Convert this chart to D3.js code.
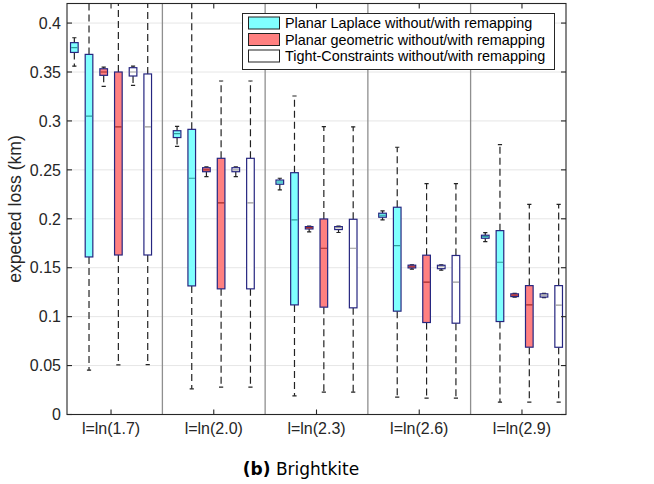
<!DOCTYPE html>
<html>
<head>
<meta charset="utf-8">
<script src="https://cdn.jsdelivr.net/npm/d3@7/dist/d3.min.js"></script>
<style>
  html, body { margin: 0; padding: 0; background: #fff; }
  svg { display: block; }
  text { font-family: "Liberation Sans", Arial, Helvetica, sans-serif; }
</style>
</head>
<body>
<svg id="chart" width="654" height="484"></svg>
<script>
// ---------------- data ----------------
const categories = ["l=ln(1.7)", "l=ln(2.0)", "l=ln(2.3)", "l=ln(2.6)", "l=ln(2.9)"];
const yTicks = [0, 0.05, 0.1, 0.15, 0.2, 0.25, 0.3, 0.35, 0.4];
const legendLabels = [
  "Planar Laplace without/with remapping",
  "Planar geometric without/with remapping",
  "Tight-Constraints without/with remapping"
];
// each series: per category [lowerWhisker, q1, median, q3, upperWhisker]
const laplaceWithout = [
  [0.356, 0.370, 0.375, 0.380, 0.385],
  [0.274, 0.283, 0.287, 0.290, 0.2945],
  [0.2295, 0.2353, 0.2376, 0.2396, 0.2414],
  [0.1988, 0.2016, 0.2036, 0.2057, 0.208],
  [0.1767, 0.1801, 0.1818, 0.1832, 0.1859]
];
const laplaceWith = [
  [0.0453, 0.161, 0.305, 0.368, 0.43],
  [0.0262, 0.1314, 0.2414, 0.2914, 0.43],
  [0.0191, 0.1120, 0.1988, 0.2471, 0.3255],
  [0.0178, 0.1056, 0.1726, 0.2118, 0.2731],
  [0.0127, 0.0950, 0.1556, 0.1879, 0.2757]
];
const geometricWithout = [
  [0.3354, 0.3466, 0.350, 0.3533, 0.355],
  [0.243, 0.2481, 0.250, 0.2522, 0.253],
  [0.1866, 0.1896, 0.191, 0.192, 0.1925],
  [0.1485, 0.1498, 0.151, 0.1526, 0.153],
  [0.1200, 0.1205, 0.122, 0.1233, 0.1237]
];
const geometricWith = [
  [0.0507, 0.163, 0.294, 0.350, 0.43],
  [0.028, 0.1284, 0.2162, 0.2618, 0.3408],
  [0.0229, 0.1097, 0.1699, 0.1998, 0.2941],
  [0.0167, 0.0940, 0.1352, 0.1628, 0.2359],
  [0.0127, 0.0688, 0.1120, 0.1317, 0.2148]
];
const tightWithout = [
  [0.3364, 0.3459, 0.350, 0.3544, 0.356],
  [0.243, 0.2481, 0.250, 0.2522, 0.253],
  [0.186, 0.189, 0.191, 0.192, 0.1925],
  [0.1475, 0.149, 0.151, 0.1525, 0.153],
  [0.1195, 0.120, 0.122, 0.1233, 0.1237]
];
const tightWith = [
  [0.051, 0.163, 0.294, 0.348, 0.43],
  [0.028, 0.1284, 0.2162, 0.2618, 0.3408],
  [0.0229, 0.109, 0.1699, 0.1995, 0.294],
  [0.0167, 0.0933, 0.1352, 0.1625, 0.2359],
  [0.0127, 0.0687, 0.1117, 0.1317, 0.2148]
];

// ---------------- styles ----------------
const series = [
  { data: laplaceWithout,   fill: "#80ffff", median: "#2f9c9c" },
  { data: laplaceWith,      fill: "#80ffff", median: "#2f9c9c" },
  { data: geometricWithout, fill: "#ff8080", median: "#a32a2a" },
  { data: geometricWith,    fill: "#ff8080", median: "#a32a2a" },
  { data: tightWithout,     fill: "#ffffff", median: "#9a9a9a" },
  { data: tightWith,        fill: "#ffffff", median: "#9a9a9a" }
];
const legendFills = ["#80ffff", "#ff8080", "#ffffff"];

const svg = d3.select("#chart");
const L = 67, R = 566, T = 3.5, B = 414.5;
const slotsPerGroup = 7;
const x = d3.scaleLinear().domain([-0.5, categories.length * slotsPerGroup - 1.5]).range([L, R]);
const y = d3.scaleLinear().domain([0, 0.42]).range([B, T]);
const slot = x(1) - x(0);
const boxW = slot * 0.52;
const capW = boxW * 0.55;
const axisColor = "#262626";

svg.append("defs").append("clipPath").attr("id", "plotclip")
  .append("rect").attr("x", L).attr("y", T).attr("width", R - L).attr("height", B - T);

// grid
svg.append("g").selectAll("line").data(yTicks).join("line")
  .attr("x1", L).attr("x2", R)
  .attr("y1", d => y(d)).attr("y2", d => y(d))
  .attr("stroke", "#e6e6e6").attr("stroke-width", 1);

// group separators
const seps = d3.range(1, categories.length).map(g => g * slotsPerGroup - 1);
svg.append("g").selectAll("line").data(seps).join("line")
  .attr("x1", d => x(d)).attr("x2", d => x(d))
  .attr("y1", T).attr("y2", B)
  .attr("stroke", "#8f8f8f").attr("stroke-width", 1.3);

// boxes
const plot = svg.append("g").attr("clip-path", "url(#plotclip)");
series.forEach((s, j) => {
  s.data.forEach((v, g) => {
    const cx = x(g * slotsPerGroup + j);
    const [lo, q1, med, q3, hi] = v;
    const gg = plot.append("g");
    // whiskers
    gg.append("line").attr("x1", cx).attr("x2", cx).attr("y1", y(q3)).attr("y2", y(hi))
      .attr("stroke", "#222").attr("stroke-width", 1.2).attr("stroke-dasharray", "7,4");
    gg.append("line").attr("x1", cx).attr("x2", cx).attr("y1", y(q1)).attr("y2", y(lo))
      .attr("stroke", "#222").attr("stroke-width", 1.2).attr("stroke-dasharray", "7,4");
    [lo, hi].forEach(w => {
      gg.append("line").attr("x1", cx - capW / 2).attr("x2", cx + capW / 2)
        .attr("y1", y(w)).attr("y2", y(w))
        .attr("stroke", "#222").attr("stroke-width", 1.2);
    });
    // box
    gg.append("rect").attr("x", cx - boxW / 2).attr("width", boxW)
      .attr("y", y(q3)).attr("height", Math.max(1, y(q1) - y(q3)))
      .attr("fill", s.fill).attr("stroke", "#262680").attr("stroke-width", 1.2);
    gg.append("line").attr("x1", cx - boxW / 2 + 0.6).attr("x2", cx + boxW / 2 - 0.6)
      .attr("y1", y(med)).attr("y2", y(med))
      .attr("stroke", s.median).attr("stroke-width", 1.2);
  });
});

// axes box
svg.append("rect").attr("x", L).attr("y", T).attr("width", R - L).attr("height", B - T)
  .attr("fill", "none").attr("stroke", axisColor).attr("stroke-width", 1.1);

const tickLen = 5;
// y ticks left and right
svg.append("g").selectAll("line").data(yTicks).join("line")
  .attr("x1", L).attr("x2", L + tickLen).attr("y1", d => y(d)).attr("y2", d => y(d))
  .attr("stroke", axisColor).attr("stroke-width", 1.1);
svg.append("g").selectAll("line").data(yTicks).join("line")
  .attr("x1", R).attr("x2", R - tickLen).attr("y1", d => y(d)).attr("y2", d => y(d))
  .attr("stroke", axisColor).attr("stroke-width", 1.1);
svg.append("g").selectAll("text").data(yTicks).join("text")
  .attr("x", L - 6).attr("y", d => y(d)).attr("dy", "0.36em")
  .attr("text-anchor", "end").attr("font-size", 16).attr("fill", axisColor)
  .text(d => d3.format("")(+d.toFixed(2)));

// x ticks bottom and top
const tickPos = categories.map((c, g) => g * slotsPerGroup + 2.5);
svg.append("g").selectAll("line").data(tickPos).join("line")
  .attr("x1", d => x(d)).attr("x2", d => x(d)).attr("y1", B).attr("y2", B - tickLen)
  .attr("stroke", axisColor).attr("stroke-width", 1.1);
svg.append("g").selectAll("line").data(tickPos).join("line")
  .attr("x1", d => x(d)).attr("x2", d => x(d)).attr("y1", T).attr("y2", T + tickLen)
  .attr("stroke", axisColor).attr("stroke-width", 1.1);
svg.append("g").selectAll("text").data(categories).join("text")
  .attr("x", (d, i) => x(tickPos[i])).attr("y", 434)
  .attr("text-anchor", "middle").attr("font-size", 16).attr("fill", axisColor)
  .text(d => d);

// y label
svg.append("text")
  .attr("transform", `translate(21,${(T + B) / 2}) rotate(-90)`)
  .attr("text-anchor", "middle").attr("font-size", 17.6).attr("fill", axisColor)
  .text("expected loss (km)");

// legend
const lg = svg.append("g");
lg.append("rect").attr("x", 242.5).attr("y", 13.5).attr("width", 312).attr("height", 56)
  .attr("fill", "#fff").attr("stroke", axisColor).attr("stroke-width", 1);
legendLabels.forEach((lab, i) => {
  const cy = 23 + i * 16.5;
  lg.append("rect").attr("x", 248.5).attr("y", cy - 6).attr("width", 31).attr("height", 12)
    .attr("fill", legendFills[i]).attr("stroke", "#222").attr("stroke-width", 1);
  lg.append("text").attr("x", 285).attr("y", cy).attr("dy", "0.36em")
    .attr("font-size", 14.4).attr("fill", "#000").text(lab);
});

// caption
const cap = svg.append("text").attr("x", 301).attr("y", 475)
  .attr("text-anchor", "middle").attr("font-size", 17).attr("fill", "#000")
  .style("font-family", "'DejaVu Sans', sans-serif");
cap.append("tspan").attr("font-weight", "bold").text("(b)");
cap.append("tspan").text(" Brightkite");
</script>
</body>
</html>
